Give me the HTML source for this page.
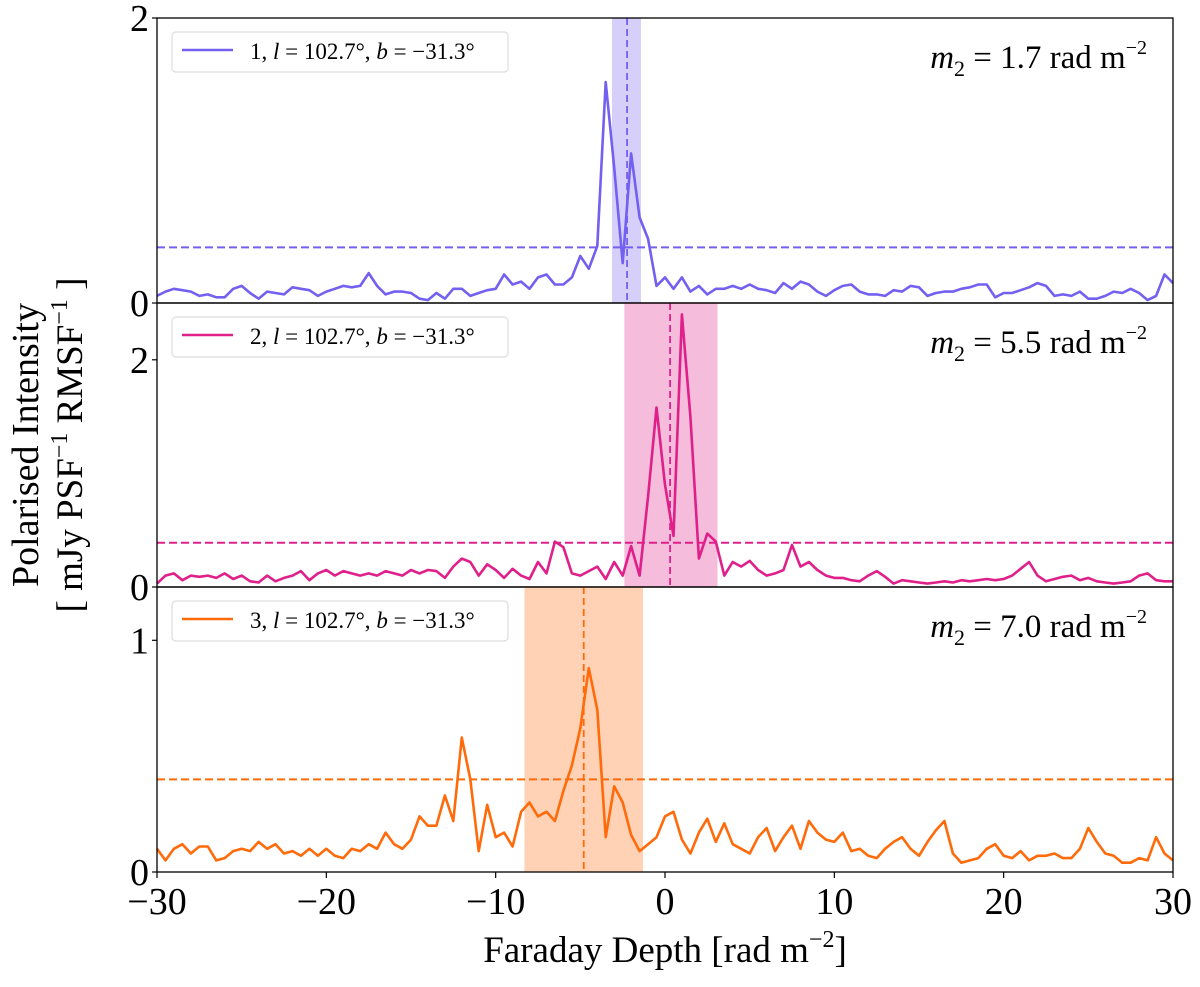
<!DOCTYPE html>
<html><head><meta charset="utf-8"><style>
body{margin:0;background:#fff}
svg text{font-family:"Liberation Serif",serif;fill:#000}
</style></head><body>
<svg width="1200" height="982" viewBox="0 0 1200 982" xmlns="http://www.w3.org/2000/svg" id="chart"></svg>
<script>
const phiStart=-30, phiStep=0.5;
const series1=[0.05,0.08,0.1,0.09,0.08,0.05,0.06,0.04,0.04,0.1,0.12,0.07,0.03,0.08,0.07,0.06,0.11,0.1,0.09,0.05,0.08,0.1,0.12,0.11,0.12,0.21,0.12,0.06,0.08,0.08,0.07,0.03,0.02,0.07,0.03,0.1,0.1,0.05,0.07,0.09,0.1,0.2,0.13,0.15,0.1,0.18,0.2,0.13,0.13,0.18,0.33,0.24,0.4,1.55,0.95,0.28,1.05,0.6,0.45,0.12,0.18,0.1,0.18,0.08,0.12,0.06,0.1,0.1,0.12,0.1,0.13,0.1,0.09,0.07,0.14,0.1,0.15,0.13,0.08,0.05,0.09,0.12,0.13,0.08,0.06,0.06,0.05,0.09,0.08,0.12,0.11,0.05,0.07,0.08,0.08,0.1,0.11,0.13,0.13,0.04,0.07,0.07,0.09,0.11,0.14,0.12,0.05,0.06,0.05,0.08,0.03,0.03,0.05,0.08,0.07,0.1,0.07,0.02,0.05,0.2,0.14];
const series2=[0.03,0.1,0.12,0.06,0.1,0.09,0.1,0.08,0.12,0.07,0.1,0.05,0.04,0.1,0.05,0.08,0.1,0.14,0.06,0.12,0.15,0.1,0.14,0.12,0.1,0.12,0.1,0.14,0.12,0.1,0.15,0.12,0.15,0.14,0.08,0.18,0.25,0.22,0.1,0.2,0.15,0.08,0.16,0.1,0.07,0.22,0.12,0.4,0.35,0.12,0.1,0.14,0.18,0.07,0.22,0.1,0.36,0.1,0.8,1.58,0.9,0.45,2.4,1.5,0.25,0.47,0.4,0.1,0.22,0.18,0.23,0.15,0.1,0.12,0.15,0.37,0.18,0.22,0.15,0.1,0.08,0.08,0.06,0.05,0.1,0.14,0.09,0.03,0.06,0.05,0.04,0.03,0.04,0.05,0.04,0.06,0.05,0.06,0.07,0.06,0.07,0.1,0.16,0.22,0.1,0.05,0.07,0.09,0.1,0.06,0.08,0.05,0.04,0.03,0.04,0.05,0.1,0.12,0.06,0.05,0.05];
const series3=[0.1,0.05,0.1,0.12,0.08,0.11,0.11,0.05,0.06,0.09,0.1,0.09,0.13,0.1,0.12,0.08,0.09,0.07,0.1,0.07,0.1,0.07,0.06,0.1,0.09,0.12,0.1,0.17,0.12,0.1,0.14,0.24,0.2,0.2,0.33,0.22,0.58,0.4,0.09,0.29,0.15,0.17,0.11,0.26,0.3,0.24,0.26,0.22,0.35,0.46,0.62,0.88,0.7,0.15,0.37,0.3,0.16,0.09,0.12,0.15,0.24,0.26,0.14,0.08,0.17,0.23,0.13,0.21,0.12,0.1,0.08,0.15,0.19,0.09,0.15,0.2,0.1,0.22,0.17,0.14,0.13,0.17,0.09,0.1,0.07,0.06,0.1,0.13,0.15,0.1,0.07,0.13,0.18,0.22,0.08,0.04,0.05,0.06,0.1,0.12,0.07,0.06,0.09,0.05,0.07,0.07,0.08,0.06,0.06,0.1,0.19,0.13,0.08,0.07,0.04,0.04,0.06,0.05,0.15,0.08,0.05];
const thresholds=[0.39,0.39,0.4];
const bandLo=[-3.13,-2.4,-8.3];
const bandHi=[-1.42,3.1,-1.3];
const peakPhi=[-2.24,0.3,-4.8];
const m2Labels=["1.7","5.5","7.0"];
const yMax=[2,2.5,1.23];
const yTicks=[[0,2],[0,2],[0,1]];
const xTicks=[-30,-20,-10,0,10,20,30];
const colors=["#7360f0","#e0208a","#ff6a0a"];
const allSeries=[series1,series2,series3];

const NS="http://www.w3.org/2000/svg";
const svg=document.getElementById('chart');
function mk(tag,attrs,parent){const e=document.createElementNS(NS,tag);for(const k in attrs)e.setAttribute(k,attrs[k]);(parent||svg).appendChild(e);return e;}
const L=157,R=1173;
const panelTop=[18,303,587], panelBot=[303,587,872];
const xs=v=>L+(v+30)/60*(R-L);
for(let p=0;p<3;p++){
  const g=mk('g',{});
  
  
  const T=panelTop[p],B=panelBot[p];
  const ys=v=>B-v/yMax[p]*(B-T);
  const band=mk('rect',{x:xs(bandLo[p]),y:T,width:xs(bandHi[p])-xs(bandLo[p]),height:B-T,fill:colors[p],'fill-opacity':0.3},g);
  
  
  const pk=mk('line',{x1:xs(peakPhi[p]),x2:xs(peakPhi[p]),y1:T,y2:B,stroke:colors[p],'stroke-width':1.8,'stroke-dasharray':'7,4'},g);
  
  
  const th=mk('line',{x1:L,x2:R,y1:ys(thresholds[p]),y2:ys(thresholds[p]),stroke:colors[p],'stroke-width':2,'stroke-dasharray':'8,4'},g);
  
  
  const d=allSeries[p].map((v,i)=>(i?'L':'M')+xs(phiStart+i*phiStep).toFixed(1)+','+ys(v).toFixed(1)).join('');
  const path=mk('path',{d:d,fill:'none',stroke:colors[p],'stroke-width':2.6,'stroke-linejoin':'round'},g);
  
  
  const fr=mk('rect',{x:L,y:T,width:R-L,height:B-T,fill:'none',stroke:'#000','stroke-width':1.3},g);
  
  
  yTicks[p].forEach(t=>{
    const tx=mk('text',{x:L-8,y:ys(t)+13,'font-size':38,'text-anchor':'end'},g);
    tx.textContent=t;
    
    
    mk('line',{x1:L-5,x2:L,y1:ys(t),y2:ys(t),stroke:'#000','stroke-width':1.2},g);
  });
  const lg=mk('g',{},g);
  
  
  mk('rect',{x:172,y:T+14,width:336,height:40,rx:4,fill:'#fff','fill-opacity':0.8,stroke:'#ddd','stroke-width':1.2},lg);
  mk('line',{x1:182,x2:233,y1:T+32,y2:T+32,stroke:colors[p],'stroke-width':2.6},lg);
  const lt=mk('text',{x:250,y:T+41,'font-size':23},lg);
  lt.innerHTML=(p+1)+', <tspan font-style="italic">l</tspan> = 102.7°, <tspan font-style="italic">b</tspan> = −31.3°';
  const mt=mk('text',{x:1147,y:T+50,'font-size':33,'text-anchor':'end'},g);
  mt.innerHTML='<tspan font-style="italic">m</tspan><tspan font-size="22" dy="8">2</tspan><tspan dy="-8"> = '+m2Labels[p]+' rad m</tspan><tspan font-size="20" dy="-14">−2</tspan>';
  
  
}
xTicks.forEach(t=>{
  mk('line',{x1:xs(t),x2:xs(t),y1:872,y2:878,stroke:'#000','stroke-width':1.2});
  const tx=mk('text',{x:xs(t),y:914,'font-size':38,'text-anchor':'middle'});
  tx.textContent=t<0?'−'+(-t):t;
  
  
});
const xt=mk('text',{x:665,y:962,'font-size':37,'text-anchor':'middle'});
xt.innerHTML='Faraday Depth [rad m<tspan font-size="24" dy="-15">−2</tspan><tspan dy="15">]</tspan>';


const yt=mk('text',{x:0,y:0,'font-size':38,'text-anchor':'middle',transform:'translate(38,445) rotate(-90)'});
yt.textContent='Polarised Intensity';


const yt2=mk('text',{x:0,y:0,'font-size':37,'text-anchor':'middle',transform:'translate(82,445) rotate(-90)'});
yt2.innerHTML='[ mJy PSF<tspan font-size="24" dy="-15">−1</tspan><tspan dy="15"> RMSF</tspan><tspan font-size="24" dy="-15">−1</tspan><tspan dy="15"> ]</tspan>';


</script>
</body></html>
